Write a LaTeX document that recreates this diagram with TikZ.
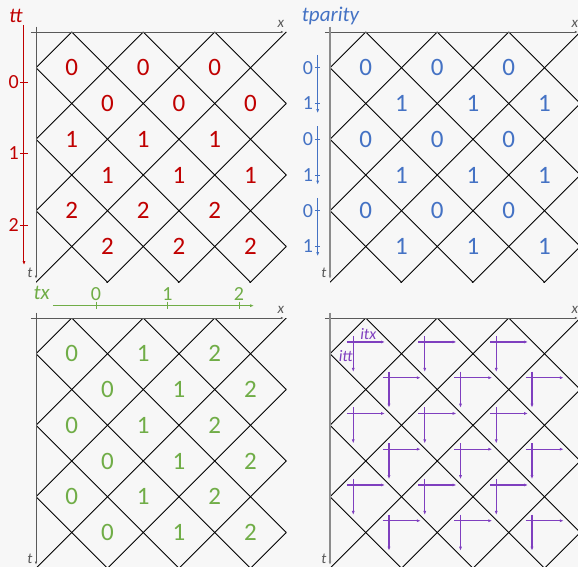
\documentclass[tikz,border=0pt]{standalone}
\usepackage{fontspec}
\setmainfont{Carlito}
\usetikzlibrary{arrows.meta}

\definecolor{ttred}{HTML}{C00000}
\definecolor{parblue}{HTML}{4472C4}
\definecolor{txgreen}{HTML}{70AD47}
\definecolor{itpurple}{HTML}{7F3FBF}
\definecolor{axisgray}{HTML}{595959}
\definecolor{lightaxis}{HTML}{8C8C8C}
\definecolor{bggray}{HTML}{F7F7F7}

% diamond lattice with its x and t axes; #1 = style of the t axis, #2 = name prefix
\newcommand{\lattice}[2]{%
  \begin{scope}
    \clip (0,0) rectangle (7,7);
    \foreach \k in {1,3,...,13} \draw[cell] (\k,0) -- (0,\k);
    \foreach \k in {-7,-5,...,7} \draw[cell] (\k,0) -- (\k+7,7);
  \end{scope}
  \draw[axis] (-0.14,0) -- (6.93,0);
  \draw[#1] (0,-0.15) -- (0,6.9);
  \node[axislbl] (#2-x) at (6.85,-0.22) {x};
  \node[axislbl] (#2-t) at (-0.17,6.74) {t};
}

\begin{document}
\begin{tikzpicture}[x=35.75pt,y=-35.75pt,
    cell/.style={black,line width=0.75pt},
    axis/.style={axisgray,line width=0.8pt,-{Latex[length=3pt,width=2.4pt]}},
    thickaxis/.style={lightaxis,line width=1.6pt,-{Latex[length=3pt,width=3pt]}},
    axislbl/.style={axisgray,font=\fontsize{15}{15}\selectfont\itshape,inner sep=0},
    num/.style={font=\fontsize{25}{25}\selectfont,inner sep=0},
    scalelbl/.style={font=\fontsize{20}{20}\selectfont,inner sep=0},
    title/.style={font=\fontsize{21}{21}\selectfont\itshape,inner sep=0,anchor=base west},
    bar/.style={line width=1pt,-{Latex[length=4pt,width=3pt]}},
    iter/.style={itpurple,line width=1.1pt,-{Latex[length=4pt,width=3pt]}}]

  \fill[bggray] (0,0) rectangle (578pt,-567pt);
  \useasboundingbox (0,0) rectangle (578pt,-567pt);

  % tt
  \begin{scope}[shift={(36pt,-32pt)}]
    \lattice{axis}{p1}
    \foreach \r in {0,...,5}{
      \pgfmathtruncatemacro\ttval{\r/2}
      \pgfmathtruncatemacro\off{mod(\r,2)}
      \foreach \c in {0,1,2}
        \node[num,ttred] (tt-\r-\c) at (2*\c+1+\off,\r+1) {\ttval};
    }
    \node[title,ttred] (tt-title) at (-0.755,-0.27) {tt};
    \draw[bar,ttred] (-0.336,-0.2) -- (-0.336,6.52);
    \foreach \v in {0,1,2}{
      \draw[ttred,line width=0.8pt] (-0.45,1.4+2*\v) -- (-0.22,1.4+2*\v);
      \node[scalelbl,ttred,anchor=east] (tt-lbl-\v) at (-0.48,1.4+2*\v) {\v};
    }
  \end{scope}

  % tparity
  \begin{scope}[shift={(330pt,-32pt)}]
    \lattice{thickaxis}{p2}
    \foreach \r in {0,...,5}{
      \pgfmathtruncatemacro\parval{mod(\r,2)}
      \foreach \c in {0,1,2}
        \node[num,parblue] (par-\r-\c) at (2*\c+1+\parval,\r+1) {\parval};
    }
    \node[title,parblue] (par-title) at (-0.79,-0.28) {tparity};
    \foreach \i in {0,1,2}{
      \draw[bar,parblue] (-0.345,0.64+2*\i) -- (-0.345,2.27+2*\i);
      \draw[parblue,line width=0.8pt] (-0.42,1+2*\i) -- (-0.28,1+2*\i);
      \draw[parblue,line width=0.8pt] (-0.42,2+2*\i) -- (-0.28,2+2*\i);
      \node[scalelbl,parblue,anchor=east] (par-lbl0-\i) at (-0.47,1+2*\i) {0};
      \node[scalelbl,parblue,anchor=east] (par-lbl1-\i) at (-0.47,2+2*\i) {1};
    }
  \end{scope}

  % tx
  \begin{scope}[shift={(36pt,-318pt)}]
    \lattice{axis}{p3}
    \foreach \r in {0,...,5}{
      \pgfmathtruncatemacro\off{mod(\r,2)}
      \foreach \c in {0,1,2}
        \node[num,txgreen] (tx-\r-\c) at (2*\c+1+\off,\r+1) {\c};
    }
    \node[title,txgreen] (tx-title) at (-0.075,-0.53) {tx};
    \draw[bar,txgreen] (0.475,-0.345) -- (6.1,-0.345);
    \foreach \v in {0,1,2}{
      \draw[txgreen,line width=0.8pt] (1.68+2*\v,-0.455) -- (1.68+2*\v,-0.245);
      \node[scalelbl,txgreen,anchor=south] (tx-lbl-\v) at (1.68+2*\v,-0.47) {\v};
    }
  \end{scope}

  % itx / itt
  \begin{scope}[shift={(330pt,-318pt)}]
    \lattice{thickaxis}{p4}
    \foreach \r in {0,...,5}{
      \pgfmathtruncatemacro\off{mod(\r,2)}
      \foreach \c in {0,1,2}{
        \coordinate (it-\r-\c) at (2*\c+1+\off,\r+1);
        \draw[iter] ([shift={(-0.53,-0.33)}]it-\r-\c) -- ([shift={(0.54,-0.33)}]it-\r-\c);
        \draw[iter] ([shift={(-0.35,-0.5)}]it-\r-\c) -- ([shift={(-0.35,0.51)}]it-\r-\c);
      }
    }
    \node[itpurple,font=\fontsize{16}{16}\selectfont\itshape,inner sep=0] (itx-lbl) at (1.07,0.456) {itx};
    \node[itpurple,font=\fontsize{16}{16}\selectfont\itshape,inner sep=0] (itt-lbl) at (0.44,1.055) {itt};
  \end{scope}
\end{tikzpicture}
\end{document}
